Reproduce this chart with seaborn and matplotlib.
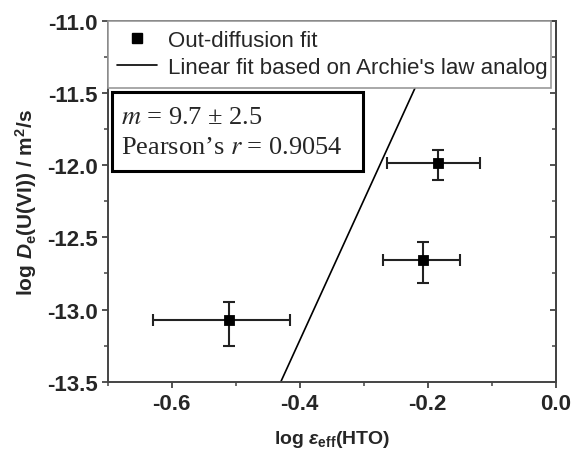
import matplotlib
matplotlib.use("Agg")
import matplotlib.pyplot as plt
from matplotlib.ticker import MultipleLocator
from matplotlib.lines import Line2D
from matplotlib.patches import Rectangle
import seaborn as sns
import numpy as np
import pandas as pd

# ---- data ----
log_eps = [-0.510, -0.207, -0.184]
log_De = [-13.075, -12.655, -11.985]
xerr_lo = [0.120, 0.063, 0.079]
xerr_hi = [0.095, 0.057, 0.066]
yerr_lo = [0.175, 0.164, 0.118]
yerr_hi = [0.127, 0.120, 0.090]
fit_slope = 9.7
fit_intercept = -9.334
fit_x = [-0.70, 0.0]
legend_labels = ["Out-diffusion fit", "Linear fit based on Archie's law analog"]
xticks = [-0.6, -0.4, -0.2, 0.0]
yticks = [-11.0, -11.5, -12.0, -12.5, -13.0, -13.5]

sns.set_style("ticks")
plt.rcParams['font.family'] = ['Liberation Sans', 'DejaVu Sans']
plt.rcParams['mathtext.fontset'] = 'custom'
plt.rcParams['mathtext.rm'] = 'Liberation Sans:bold'
plt.rcParams['mathtext.it'] = 'Liberation Sans:bold:italic'
plt.rcParams['mathtext.bf'] = 'Liberation Sans:bold'

fig = plt.figure(figsize=(5.73, 4.56), dpi=100)
ax = fig.add_axes([0.188, 0.1607, 0.7818, 0.7917])

df = pd.DataFrame({"x": log_eps, "y": log_De})
ax.errorbar(df["x"], df["y"], xerr=[xerr_lo, xerr_hi], yerr=[yerr_lo, yerr_hi],
            fmt='none', ecolor='#222222', elinewidth=1.5, capsize=4, capthick=1.5, zorder=2)
sns.scatterplot(data=df, x="x", y="y", marker='s', s=55, color='black',
                edgecolor='black', ax=ax, zorder=3, legend=False)

fx = np.array(fit_x)
fit_df = pd.DataFrame({"x": fx, "y": fit_slope * fx + fit_intercept})
sns.lineplot(data=fit_df, x="x", y="y", color='black', linewidth=1.2, ax=ax, zorder=2)

ax.set_xlim(-0.7, 0.0)
ax.set_ylim(-13.5, -11.0)
ax.set_xticks(xticks)
ax.set_yticks(yticks)
ax.set_xticklabels([f"{t:.1f}" for t in xticks])
ax.set_yticklabels([f"{t:.1f}" for t in yticks])
ax.xaxis.set_minor_locator(MultipleLocator(0.1))
ax.yaxis.set_minor_locator(MultipleLocator(0.25))
for lab in ax.get_xticklabels() + ax.get_yticklabels():
    lab.set_fontweight('bold')
    lab.set_fontsize(16)
ax.tick_params(which='major', direction='out', length=4, width=1.3, color='#444444', pad=3)
ax.tick_params(which='minor', direction='out', length=3, width=1.1, color='#444444')
ax.tick_params(which='both', right=False, top=False)
ax.tick_params(axis='x', which='major', pad=4)
for sp in ax.spines.values():
    sp.set_visible(True)
    sp.set_linewidth(1.4)
    sp.set_color('#444444')

# right-hand mirrored ticks pointing inward
sec = ax.secondary_yaxis('right')
sec.set_yticks(yticks)
sec.yaxis.set_minor_locator(MultipleLocator(0.25))
sec.tick_params(which='major', direction='in', length=4, width=1.3, color='#444444', labelright=False)
sec.tick_params(which='minor', direction='in', length=3, width=1.1, color='#444444')
sec.spines['right'].set_linewidth(1.4)
sec.spines['right'].set_color('#444444')

ax.set_xlabel(r'log $\varepsilon_{\rm eff}$(HTO)', fontsize=14, fontweight='bold', labelpad=10)
ax.set_ylabel(r'log $D_{\rm e}$(U(VI)) / m$^{\rm 2}$/s', fontsize=15, fontweight='bold', labelpad=6)

handles = [Line2D([], [], marker='s', color='black', linestyle='none', markersize=7),
           Line2D([], [], color='black', linewidth=1.2)]
leg = ax.legend(handles, legend_labels, loc='upper left', bbox_to_anchor=(0.0, 1.0, 0.989, 0.0),
                mode='expand', borderaxespad=0.0, fontsize=16, frameon=True, fancybox=False,
                handlelength=1.8, handletextpad=0.5, borderpad=0.42, labelspacing=0.28)
leg.get_frame().set_edgecolor('#999999')
leg.get_frame().set_linewidth(1.2)
leg.get_frame().set_facecolor('white')
leg.get_frame().set_alpha(1.0)
leg.set_zorder(5)

# annotation box
ax.add_patch(Rectangle((0.0096, 0.5837), 0.5604, 0.2188, transform=ax.transAxes,
                       facecolor='white', edgecolor='black', linewidth=2.2, zorder=6))
ax.text(0.0298, 0.733, r"$m$ = 9.7 ± 2.5", transform=ax.transAxes, fontsize=19,
        family='Liberation Serif', math_fontfamily='stix', va='center', ha='left', zorder=7)
ax.text(0.0298, 0.650, r"Pearson’s $r$ = 0.9054", transform=ax.transAxes, fontsize=19,
        family='Liberation Serif', math_fontfamily='stix', va='center', ha='left', zorder=7)

fig.savefig("out.png", dpi=100)
